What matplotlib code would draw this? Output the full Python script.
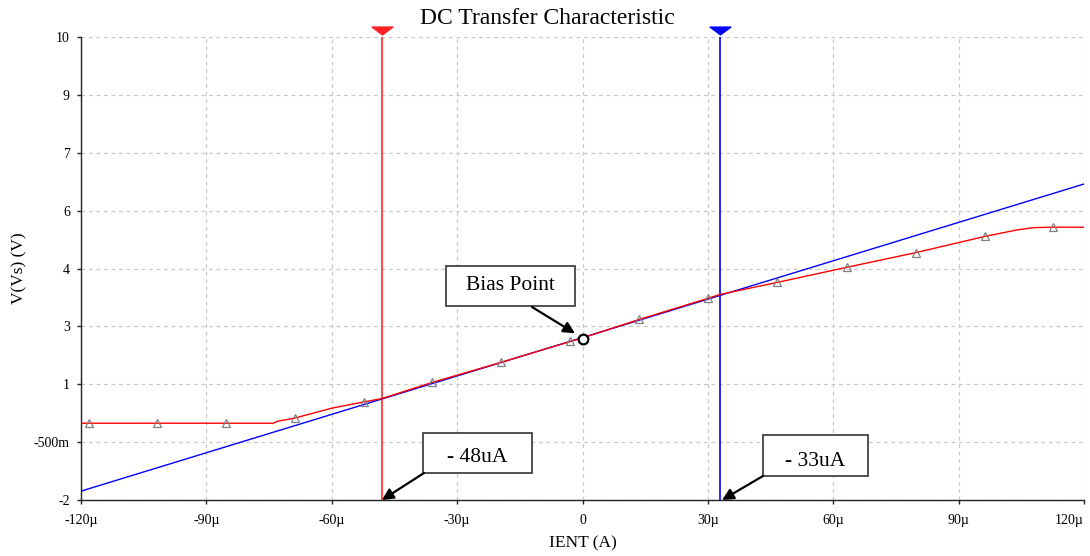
import matplotlib
matplotlib.use("Agg")
import matplotlib.pyplot as plt
from matplotlib.ticker import FixedLocator
from matplotlib.patches import Rectangle
from matplotlib.path import Path

# ---- data (x in microamps, y in volts) ----
red_x = [-120, -74, -73, -69, -60, -52.4, -48, -35.9, -19.4, -2.9, 0, 13.6, 30.1, 33,
         46.6, 63.2, 79.7, 96.2, 104, 108, 112.7, 120]
red_y = [-0.01, -0.01, 0.04, 0.12, 0.38, 0.54, 0.63, 1.05, 1.57, 2.11, 2.2, 2.68, 3.23, 3.33,
         3.64, 4.03, 4.41, 4.83, 5.0, 5.06, 5.07, 5.07]
marker_x = [-118.2, -101.9, -85.4, -68.9, -52.4, -35.9, -19.4, -2.9, 13.6, 30.1,
            46.6, 63.2, 79.7, 96.2, 112.7]
marker_y = [-0.01, -0.01, -0.01, 0.12, 0.54, 1.05, 1.57, 2.11, 2.68, 3.23,
            3.64, 4.03, 4.41, 4.83, 5.07]
blue_x = [-120, 120]
blue_y = [-1.77, 6.19]
bias_x = [0]
bias_y = [2.17]
cursor_red = -48
cursor_blue = 33

x_ticks = [-120, -90, -60, -30, 0, 30, 60, 90, 120]
x_labels = ["-120\u00b5", "-90\u00b5", "-60\u00b5", "-30\u00b5", "0", "30\u00b5", "60\u00b5", "90\u00b5", "120\u00b5"]
y_ticks = [-2, -0.5, 1, 2.5, 4, 5.5, 7, 8.5, 10]
y_labels = ["-2", "-500m", "1", "3", "4", "6", "7", "9", "10"]

title = "DC Transfer Characteristic"
xlabel = "IENT (A)"
ylabel = "V(Vs) (V)"
ann_bias = "Bias Point"
ann_red = "- 48uA"
ann_blue = "- 33uA"

plt.rcParams['font.family'] = ['Liberation Serif', 'DejaVu Serif']

W, H = 1090, 556
L, R, T, B = 81, 1084, 37, 500
fig = plt.figure(figsize=(W / 100, H / 100), dpi=100)
ax = fig.add_axes([L / W, (H - B) / H, (R - L) / W, (B - T) / H])
ax.set_xlim(-120, 120)
ax.set_ylim(-2, 10)


def fx(px):
    return (px - L) / (R - L)


def fy(py):
    return (B - py) / (B - T)


ax.xaxis.set_major_locator(FixedLocator(x_ticks))
ax.set_xticklabels(x_labels)
ax.yaxis.set_major_locator(FixedLocator(y_ticks))
ax.set_yticklabels(y_labels)
ax.tick_params(axis='both', labelsize=10, length=3, width=1, color='#222222', direction='out', pad=5)
ax.tick_params(axis='x', pad=7)
ax.get_xticklabels()[-1].set_ha('right')

ax.grid(True, color='#c8c8c8', linestyle=(0, (3, 3)), linewidth=0.9)
for s in ['top', 'right']:
    ax.spines[s].set_visible(False)
for s in ['left', 'bottom']:
    ax.spines[s].set_linewidth(1.0)
    ax.spines[s].set_color('#222222')

ax.plot(blue_x, blue_y, color='#0000ff', lw=1.0, zorder=3)
ax.plot(red_x, red_y, color='#ff0000', lw=1.0, zorder=4)
ax.plot(marker_x, marker_y, linestyle='none', marker='^', markersize=6,
        markerfacecolor='none', markeredgecolor='#808080', markeredgewidth=0.9, zorder=5)

# cursors
ax.axvline(cursor_red, color='#ff5050', lw=1.5, zorder=2)
ax.axvline(cursor_blue, color='#0000ff', lw=1.2, zorder=2)
tri = Path([(-1, 1.0), (1, 1.0), (0, 0.25), (-1, 1.0)],
           [Path.MOVETO, Path.LINETO, Path.LINETO, Path.CLOSEPOLY])
ax.plot([cursor_red], [10], marker=tri, color='#ff2020', markersize=15, clip_on=False, zorder=6)
ax.plot([cursor_blue], [10], marker=tri, color='#0000ff', markersize=15, clip_on=False, zorder=6)

# bias point
ax.plot(bias_x, bias_y, marker='o', markersize=7, markerfacecolor='white',
        markeredgecolor='black', markeredgewidth=1.6, zorder=7)


def callout(text, box_px, text_dy, tail_px, tip):
    x0, y0, x1, y1 = box_px
    ax.add_patch(Rectangle((fx(x0), fy(y1)), fx(x1) - fx(x0), fy(y0) - fy(y1),
                           transform=ax.transAxes, facecolor='white', edgecolor='#333333',
                           linewidth=1.2, zorder=8, clip_on=False))
    ax.text(fx((x0 + x1) / 2), fy((y0 + y1) / 2 + text_dy), text, transform=ax.transAxes,
            fontsize=15.5, ha='center', va='center', zorder=9)
    ax.annotate('', xy=tip, xycoords='data',
                xytext=(fx(tail_px[0]), fy(tail_px[1])), textcoords='axes fraction',
                arrowprops=dict(arrowstyle='-|>', color='black', lw=1.6, mutation_scale=17,
                                shrinkA=0, shrinkB=0), zorder=9)


callout(ann_bias, (446, 266, 575, 306), 0, (532, 307), (-1.8, 2.32))
callout(ann_red, (423, 433, 532, 473), 4, (424, 473), (cursor_red, -2))
callout(ann_blue, (763, 435, 868, 476), 6, (763, 476), (cursor_blue + 0.4, -2))

fig.text(547 / W, 1 - 18 / H, title, fontsize=17, ha='center', va='center')
ax.set_xlabel(xlabel, fontsize=12.5, labelpad=6)
ax.set_ylabel(ylabel, fontsize=12.5)
ax.yaxis.set_label_coords(fx(27), fy(268))

fig.savefig("out.png", dpi=100)
